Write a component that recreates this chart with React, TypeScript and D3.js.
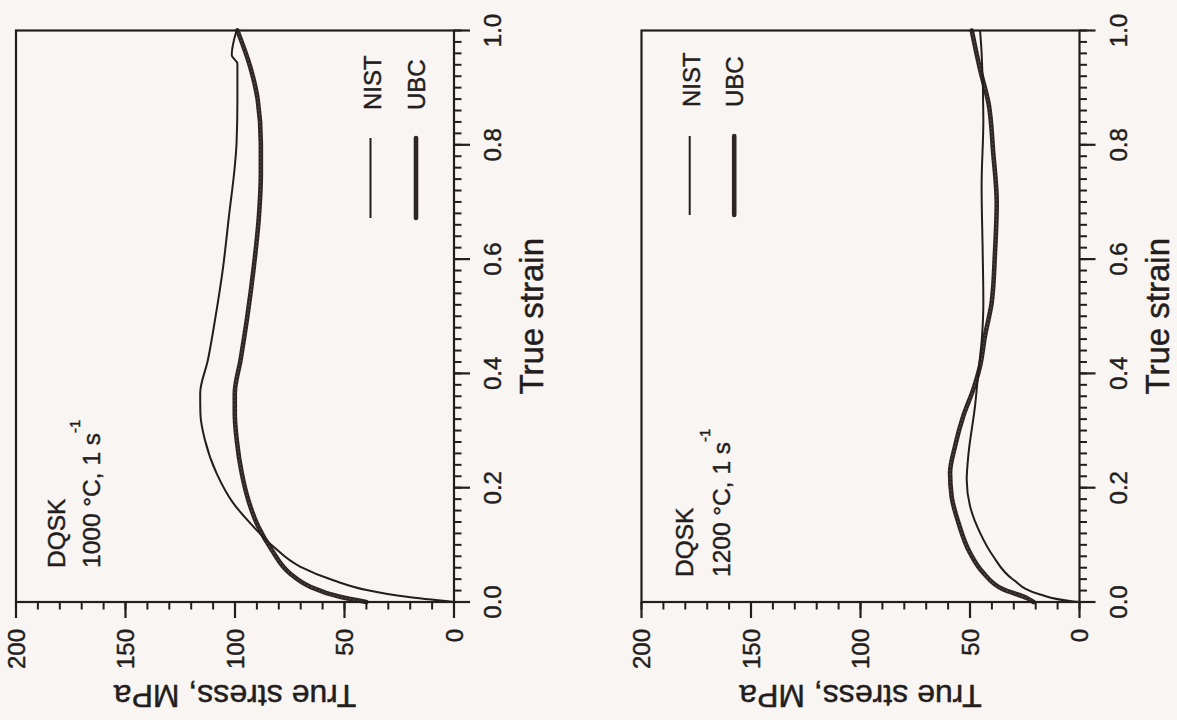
import React from "react";
import * as d3 from "d3";

// ---- data ----
const strainMajor = [0, 0.2, 0.4, 0.6, 0.8, 1.0];
const stressMajor = [0, 50, 100, 150, 200];

const nist1000Strain = [0, 0.009, 0.021, 0.038, 0.062, 0.097, 0.132, 0.173, 0.225, 0.283, 0.33, 0.365, 0.423, 0.499, 0.587, 0.674, 0.762, 0.802, 0.878, 0.942, 0.957, 1.0];
const nist1000Stress = [0, 21.6, 39.9, 55.1, 70.3, 82.5, 91.6, 100.8, 108.4, 113.7, 115.8, 115.9, 112.4, 108.9, 105.4, 102.8, 100.1, 99.3, 98.9, 98.9, 101.5, 99.3];

const ubc1000Strain = [0, 0.009, 0.027, 0.05, 0.091, 0.132, 0.178, 0.225, 0.283, 0.33, 0.365, 0.423, 0.499, 0.587, 0.674, 0.75, 0.802, 0.878, 0.937, 1.0];
const ubc1000Stress = [40, 52.1, 65.8, 74.9, 83.2, 89.4, 93.9, 96.9, 99.2, 100.1, 100.1, 97.5, 94.4, 91.4, 89.1, 88.2, 88.2, 89.6, 93.1, 98.9];

const nist1200Strain = [0, 0.001, 0.013, 0.039, 0.08, 0.121, 0.168, 0.214, 0.255, 0.343, 0.401, 0.465, 0.524, 0.611, 0.728, 0.844, 0.961, 1.0];
const nist1200Stress = [0, 2.8, 18.0, 30.2, 39.4, 45.4, 50.0, 51.5, 50.8, 47.7, 46.2, 44.5, 43.9, 44.2, 44.7, 43.9, 44.7, 45.4];

const ubc1200Strain = [0, 0.007, 0.022, 0.051, 0.086, 0.139, 0.185, 0.226, 0.273, 0.325, 0.372, 0.413, 0.465, 0.524, 0.611, 0.699, 0.786, 0.874, 0.932, 1.0];
const ubc1200Stress = [21, 24.1, 34.8, 43.9, 50.0, 55.3, 58.4, 59.1, 56.8, 53.1, 48.5, 45.4, 43.2, 40.1, 38.6, 37.8, 39.4, 41.6, 45.4, 49.2];

const seriesNames = ["NIST", "UBC"];
const materialLabel = "DQSK";
const conditionLabels = ["1000 °C, 1 s", "1200 °C, 1 s"];
const rateExponent = "-1";
const xTitle = "True strain";
const yTitle = "True stress, MPa";

// ---- layout ----
const W = 571.5;
const H = 438;
const FONT = "'Liberation Sans', Arial, Helvetica, sans-serif";
const INK = "#231d1d";
const BG = "#f9f5f2";
const TS = 0.45; // text stroke to mimic the heavier printed type

type Pt = [number, number];
const zip = (a: number[], b: number[]): Pt[] => a.map((v, i) => [v, b[i]]);

interface ChartProps {
  tx: number;
  nist: Pt[];
  ubc: Pt[];
  condition: string;
  annot: { u: number; v1: number; v2: number };
  legend: { u0: number; u1: number; vN: number; vU: number; tu: number };
}

function Chart({ tx, nist, ubc, condition, annot, legend }: ChartProps) {
  const x = d3.scaleLinear().domain([0, 1]).range([0, W]);
  const y = d3.scaleLinear().domain([0, 200]).range([H, 0]);
  const line = d3
    .line<Pt>()
    .x((d) => x(d[0]))
    .y((d) => y(d[1]))
    .curve(d3.curveMonotoneX);
  const strainMinor = d3.range(0, 1.0001, 0.02);
  const stressMinor = d3.range(0, 200.01, 10);

  return (
    <g transform={`translate(${tx},602) rotate(-90)`} fontFamily={FONT} fill={INK} stroke="none">
      {/* curves */}
      <path d={line(ubc) || ""} fill="none" stroke="#2e2626" strokeWidth={4.6} strokeLinejoin="round" strokeLinecap="round" />
      <path d={line(ubc) || ""} fill="none" stroke="#5b5050" strokeWidth={1.2} strokeDasharray="1.5 2.5" />
      <path d={line(nist) || ""} fill="none" stroke={INK} strokeWidth={2} strokeLinejoin="round" />

      {/* frame */}
      <rect x={0} y={0} width={W} height={H} fill="none" stroke={INK} strokeWidth={2.2} />

      {/* strain axis ticks (bottom of unrotated chart) */}
      {strainMinor.map((s, i) => (
        <line key={"sm" + i} x1={x(s)} x2={x(s)} y1={H} y2={H + 7.5} stroke={INK} strokeWidth={2} />
      ))}
      {strainMajor.map((s, i) => (
        <g key={"sM" + i}>
          <line x1={x(s)} x2={x(s)} y1={H} y2={H + 16} stroke={INK} strokeWidth={2.2} />
          <text x={x(s)} y={485} textAnchor="middle" fontSize={24} stroke={INK} strokeWidth={TS}>
            {d3.format(".1f")(s)}
          </text>
        </g>
      ))}
      <text x={W / 2} y={527} textAnchor="middle" fontSize={33} stroke={INK} strokeWidth={TS}>
        {xTitle}
      </text>

      {/* stress axis ticks (left of unrotated chart) */}
      {stressMinor.map((v, i) => (
        <line key={"vm" + i} x1={0} x2={-7.5} y1={y(v)} y2={y(v)} stroke={INK} strokeWidth={2} />
      ))}
      {stressMajor.map((v, i) => (
        <g key={"vM" + i}>
          <line x1={0} x2={-16} y1={y(v)} y2={y(v)} stroke={INK} strokeWidth={2.2} />
          <text x={-27} y={y(v)} textAnchor="end" dominantBaseline="central" fontSize={24} stroke={INK} strokeWidth={TS}>
            {v}
          </text>
        </g>
      ))}
      <text transform={`translate(-83,${H / 2}) rotate(-90)`} textAnchor="middle" fontSize={32} stroke={INK} strokeWidth={TS}>
        {yTitle}
      </text>

      {/* annotation */}
      <text x={annot.u} y={annot.v1} fontSize={24.5} stroke={INK} strokeWidth={TS}>
        {materialLabel}
      </text>
      <text x={annot.u} y={annot.v2} fontSize={24.5} stroke={INK} strokeWidth={TS}>
        {condition}
        <tspan dy={-20} fontSize={15}>
          {rateExponent}
        </tspan>
      </text>

      {/* legend */}
      <line x1={legend.u0} x2={legend.u1} y1={legend.vN} y2={legend.vN} stroke={INK} strokeWidth={2} />
      <line x1={legend.u0} x2={legend.u1} y1={legend.vU} y2={legend.vU} stroke="#2e2626" strokeWidth={4.6} strokeLinecap="round" />
      <text x={legend.tu} y={legend.vN + 10} fontSize={24} stroke={INK} strokeWidth={TS}>
        {seriesNames[0]}
      </text>
      <text x={legend.tu} y={legend.vU + 8.5} fontSize={24} stroke={INK} strokeWidth={TS}>
        {seriesNames[1]}
      </text>
    </g>
  );
}

export default function App() {
  return (
    <div style={{ position: "fixed", left: 0, top: 0, width: 1177, height: 720, background: BG }}>
      <svg width={1177} height={720} viewBox="0 0 1177 720" style={{ display: "block" }}>
        <rect x={0} y={0} width={1177} height={720} fill={BG} />
        <Chart
          tx={16}
          nist={zip(nist1000Strain, nist1000Stress)}
          ubc={zip(ubc1000Strain, ubc1000Stress)}
          condition={conditionLabels[0]}
          annot={{ u: 34, v1: 49, v2: 84 }}
          legend={{ u0: 384, u1: 464, vN: 354.5, vU: 400, tu: 492 }}
        />
        <Chart
          tx={641.5}
          nist={zip(nist1200Strain, nist1200Stress)}
          ubc={zip(ubc1200Strain, ubc1200Stress)}
          condition={conditionLabels[1]}
          annot={{ u: 25, v1: 51, v2: 88 }}
          legend={{ u0: 387, u1: 466, vN: 48.2, vU: 92.7, tu: 495 }}
        />
      </svg>
    </div>
  );
}
